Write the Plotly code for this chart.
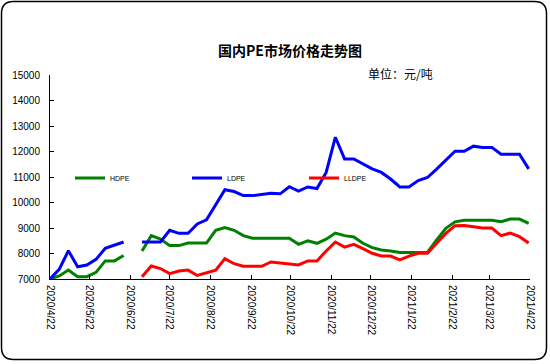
import plotly.graph_objects as go
import pandas as pd

# ---- data (weekly, 2020-04-22 .. 2021-04-21; index 9 missing) ----
dates = pd.date_range("2020-04-22", periods=53, freq="7D").strftime("%Y-%m-%d").tolist()

hdpe = [7000, 7120, 7350, 7090, 7090, 7260, 7710, 7710, 7920, None,
        8100, 8700, 8570, 8310, 8310, 8410, 8410, 8410, 8910, 9020,
        8910, 8700, 8600, 8600, 8600, 8600, 8600, 8360, 8500, 8400,
        8560, 8800, 8700, 8650, 8400, 8230, 8140, 8100, 8040, 8040,
        8040, 8040, 8530, 8990, 9240, 9300, 9300, 9300, 9300, 9250,
        9350, 9350, 9180]

ldpe = [7000, 7380, 8110, 7480, 7550, 7770, 8200, 8310, 8450, None,
        8450, 8450, 8450, 8910, 8790, 8790, 9160, 9320, 9900, 10500,
        10430, 10270, 10270, 10320, 10360, 10340, 10620, 10450, 10610, 10550,
        11180, 12560, 11710, 11710, 11500, 11320, 11180, 10920, 10610, 10610,
        10860, 10980, 11310, 11650, 12010, 12010, 12210, 12160, 12160, 11890,
        11890, 11890, 11320]

lldpe = [None, None, None, None, None, None, None, None, None, None,
         7090, 7510, 7410, 7210, 7310, 7350, 7140, 7260, 7350, 7800,
         7600, 7500, 7500, 7500, 7670, 7630, 7610, 7550, 7710, 7710,
         8100, 8450, 8250, 8360, 8190, 8010, 7900, 7900, 7750, 7900,
         8010, 8010, 8400, 8790, 9090, 9100, 9050, 9000, 9000, 8700,
         8800, 8660, 8410]

tick_vals = ["2020-04-22", "2020-05-22", "2020-06-22", "2020-07-22", "2020-08-22",
             "2020-09-22", "2020-10-22", "2020-11-22", "2020-12-22", "2021-01-22",
             "2021-02-22", "2021-03-22", "2021-04-22"]
tick_text = ["2020/4/22", "2020/5/22", "2020/6/22", "2020/7/22", "2020/8/22",
             "2020/9/22", "2020/10/22", "2020/11/22", "2020/12/22", "2021/1/22",
             "2021/2/22", "2021/3/22", "2021/4/22"]

series = [("HDPE", hdpe, "#008000"), ("LDPE", ldpe, "#0000FF"), ("LLDPE", lldpe, "#FF0000")]

W, H = 550, 364
L, R, T, B = 50, 20, 75, 85
PW, PH = W - L - R, H - T - B

def px(x):
    return (x - L) / PW

def py(y):
    return (H - B - y) / PH

fig = go.Figure()
for name, vals, col in series:
    fig.add_trace(go.Scatter(x=dates, y=vals, name=name, mode="lines",
                             line=dict(color=col, width=3), connectgaps=False))

# rounded frame
x0, x1, y0, y1, r = 1.5, 546.5, 1.5, 359.5, 12
path = (f"M {px(x0+r)},{py(y0)} L {px(x1-r)},{py(y0)} "
        f"Q {px(x1)},{py(y0)} {px(x1)},{py(y0+r)} L {px(x1)},{py(y1-r)} "
        f"Q {px(x1)},{py(y1)} {px(x1-r)},{py(y1)} L {px(x0+r)},{py(y1)} "
        f"Q {px(x0)},{py(y1)} {px(x0)},{py(y1-r)} L {px(x0)},{py(y0+r)} "
        f"Q {px(x0)},{py(y0)} {px(x0+r)},{py(y0)} Z")
fig.add_shape(type="path", path=path, xref="paper", yref="paper",
              line=dict(color="black", width=1.5))

fig.add_annotation(text="<b>国内PE市场价格走势图</b>", xref="paper", yref="paper",
                   x=px(290), y=py(50), xanchor="center", yanchor="middle", showarrow=False,
                   font=dict(family="Noto Sans CJK SC", size=14, color="black"))
fig.add_annotation(text="单位：元/吨", xref="paper", yref="paper",
                   x=px(400), y=py(73), xanchor="center", yanchor="middle", showarrow=False,
                   font=dict(family="Noto Sans CJK SC", size=12, color="black"))

fig.update_layout(
    width=W, height=H,
    margin=dict(l=L, r=R, t=T, b=B),
    paper_bgcolor="white", plot_bgcolor="white",
    font=dict(family="Liberation Sans", size=10, color="black"),
    showlegend=True,
    legend=dict(orientation="h", x=px(70), y=py(178), xanchor="left", yanchor="middle",
                entrywidth=72, entrywidthmode="pixels", itemwidth=30,
                font=dict(family="Liberation Sans", size=7, color="black"),
                bgcolor="rgba(0,0,0,0)", tracegroupgap=0),
    xaxis=dict(type="date", range=["2020-04-22", "2021-04-22"],
               tickvals=tick_vals, ticktext=tick_text, tickangle=90,
               ticks="inside", ticklen=4, tickcolor="black",
               showline=True, linecolor="black", linewidth=1,
               showgrid=False, zeroline=False, ticklabelstandoff=3,
               tickfont=dict(family="Liberation Sans", size=10)),
    yaxis=dict(range=[7000, 15000], dtick=1000, tick0=7000, tickformat="d",
               ticks="inside", ticklen=4, tickcolor="black",
               showline=True, linecolor="black", linewidth=1,
               showgrid=False, zeroline=False, ticklabelstandoff=7,
               tickfont=dict(family="Liberation Sans", size=10)),
)

fig.write_html("out.html", config={"displayModeBar": False},
               post_script="document.body.style.margin='0';")
